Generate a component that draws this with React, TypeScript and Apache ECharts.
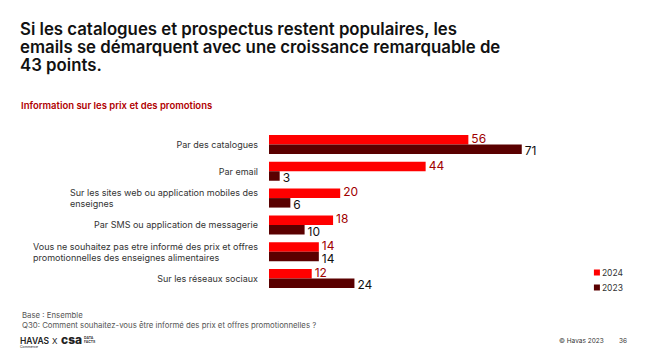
import React, { useEffect, useRef } from "react";
import * as echarts from "echarts";

const categories = [
  "Par des catalogues",
  "Par email",
  "Sur les sites web ou application mobiles des\nenseignes",
  "Par SMS ou application de messagerie",
  "Vous ne souhaitez pas etre informé des prix et offres\npromotionnelles des enseignes alimentaires",
  "Sur les réseaux sociaux",
];
const values2024 = [56, 44, 20, 18, 14, 12];
const values2023 = [71, 3, 6, 10, 14, 24];
const seriesNames = ["2024", "2023"];

const titleText =
  "Si les catalogues et prospectus restent populaires, les\nemails se démarquent avec une croissance remarquable de\n43 points.";
const subTitleText = "Information sur les prix et des promotions";
const baseText = "Base : Ensemble";
const questionText =
  "Q30: Comment souhaitez-vous être informé des prix et offres promotionnelles ?";

const RED = "#ff0000";
const DARK = "#5a0000";
const FONT = "Inter, 'Noto Sans', sans-serif";

export default function App() {
  const ref = useRef<HTMLDivElement>(null);
  useEffect(() => {
    if (!ref.current) return;
    const chart = echarts.init(ref.current, undefined, { renderer: "svg" });
    chart.setOption({
      animation: false,
      backgroundColor: "#ffffff",
      textStyle: { fontFamily: FONT },
      title: [
        {
          text: titleText,
          left: 15,
          top: 15,
          textStyle: {
            fontFamily: FONT,
            fontSize: 16.8,
            fontWeight: 600,
            color: "#111111",
            lineHeight: 18,
          },
        },
        {
          text: subTitleText,
          left: 16,
          top: 95,
          textStyle: {
            fontFamily: FONT,
            fontSize: 9.5,
            fontWeight: 600,
            color: "#b00000",
          },
        },
        {
          text: baseText + "\n" + questionText,
          left: 17,
          top: 305,
          textStyle: {
            fontFamily: FONT,
            fontSize: 7.8,
            fontWeight: 400,
            color: "#555555",
            lineHeight: 10,
          },
        },
      ],
      legend: {
        orient: "vertical",
        right: 19,
        top: 263,
        itemWidth: 6,
        itemHeight: 6,
        itemGap: 6,
        icon: "rect",
        textStyle: { fontFamily: FONT, fontSize: 8.5, color: "#333333", padding: [0, 0, 0, -3] },
        data: seriesNames,
      },
      grid: { left: 269, top: 131, width: 356, height: 161, containLabel: false },
      xAxis: {
        type: "value",
        min: 0,
        max: 100,
        show: false,
      },
      yAxis: {
        type: "category",
        inverse: true,
        data: categories,
        axisLine: { show: false },
        axisTick: { show: false },
        axisLabel: {
          margin: 11,
          align: "right",
          fontFamily: FONT,
          fontSize: 9,
          color: "#333333",
          lineHeight: 11,
          formatter: (v: string) =>
            v
              .split("\n")
              .map((l) => "{l|" + l + "}")
              .join("\n"),
          rich: { l: { align: "left", fontFamily: FONT, fontSize: 9, color: "#333333", lineHeight: 11 } },
        },
      },
      series: [
        {
          name: seriesNames[0],
          type: "bar",
          data: values2024,
          barWidth: 9.5,
          barGap: "0%",
          itemStyle: { color: RED },
          label: {
            show: true,
            position: "right",
            distance: 3,
            offset: [0, -1.5],
            fontFamily: FONT,
            fontSize: 12,
            lineHeight: 11,
            color: "#a00000",
          },
        },
        {
          name: seriesNames[1],
          type: "bar",
          data: values2023,
          barWidth: 9.5,
          barGap: "0%",
          itemStyle: { color: DARK },
          label: {
            show: true,
            position: "right",
            distance: 3,
            offset: [0, 1.5],
            fontFamily: FONT,
            fontSize: 12,
            lineHeight: 11,
            color: "#111111",
          },
        },
      ],
      graphic: [
        {
          type: "text",
          left: 20,
          top: 336,
          style: { text: "HAVAS", font: "600 8.5px " + FONT, fill: "#222222" },
        },
        {
          type: "text",
          left: 20,
          top: 345,
          style: { text: "Commerce", font: "400 3.5px " + FONT, fill: "#222222" },
        },
        {
          type: "text",
          left: 52,
          top: 337,
          style: { text: "X", font: "400 8px " + FONT, fill: "#222222" },
        },
        {
          type: "text",
          left: 61,
          top: 333,
          style: { text: "csa", font: "800 12px " + FONT, fill: "#222222" },
        },
        {
          type: "text",
          left: 84,
          top: 336,
          style: { text: "DATA\nFACTS", font: "600 3.5px " + FONT, fill: "#222222" },
        },
        {
          type: "text",
          left: 559,
          top: 337,
          style: { text: "© Havas 2023", font: "400 6.5px " + FONT, fill: "#333333" },
        },
        {
          type: "text",
          left: 619,
          top: 337,
          style: { text: "36", font: "400 6.5px " + FONT, fill: "#333333" },
        },
      ],
    });
    return () => chart.dispose();
  }, []);
  return <div ref={ref} style={{ width: 647, height: 364, margin: -8 }} />;
}
